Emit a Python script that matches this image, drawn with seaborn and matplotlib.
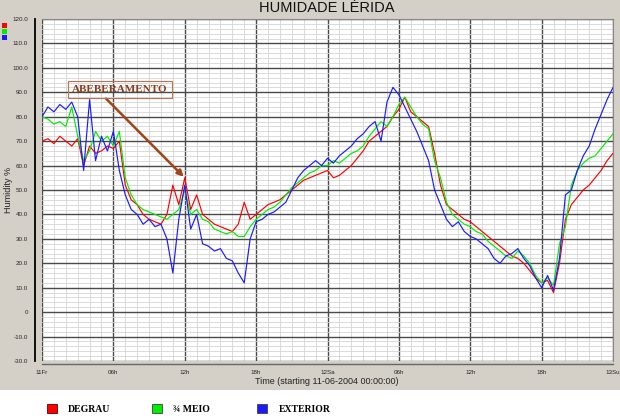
import numpy as np
import pandas as pd
import matplotlib
matplotlib.use("Agg")
import matplotlib.pyplot as plt
import seaborn as sns
from matplotlib.patches import Rectangle

# ---------------- data ----------------
hours = np.arange(0, 48.5, 0.5)

degrau = [70, 71, 69, 72, 70, 68, 71, 60, 68, 65,
          66, 68, 67, 70, 52, 46, 44, 40, 38, 37,
          36, 40, 52, 44, 55, 42, 48, 40, 38, 36,
          35, 34, 33, 36, 45, 38, 40, 42, 44, 45,
          46, 48, 50, 52, 54, 55, 56, 57, 58, 55,
          56, 58, 60, 63, 66, 70, 72, 74, 76, 80,
          83, 88, 82, 80, 78, 76, 65, 52, 44, 42,
          40, 38, 37, 35, 33, 31, 29, 27, 25, 23,
          22, 20, 17, 14, 12, 13, 8, 20, 38, 44,
          47, 50, 52, 55, 58, 62, 65]

meio = [80, 79, 77, 78, 76, 84, 72, 62, 66, 74,
        70, 72, 68, 74, 55, 48, 44, 42, 41, 40,
        39, 38, 40, 42, 50, 40, 42, 38, 37, 34,
        33, 32, 33, 31, 31, 35, 38, 40, 42, 43,
        45, 48, 51, 53, 55, 57, 58, 60, 60, 62,
        61, 63, 65, 66, 68, 72, 75, 78, 76, 80,
        85, 88, 84, 80, 77, 75, 62, 55, 45, 40,
        38, 36, 35, 33, 32, 29, 27, 25, 23, 22,
        25, 23, 20, 15, 12, 14, 11, 28, 35, 52,
        58, 61, 63, 64, 67, 70, 73]

exterior = [80, 84, 82, 85, 83, 86, 80, 58, 87, 62,
            72, 66, 74, 58, 48, 42, 40, 36, 38, 35,
            36, 30, 16, 38, 52, 34, 40, 28, 27, 25,
            26, 22, 21, 16, 12, 30, 37, 38, 40, 41,
            43, 45, 50, 55, 58, 60, 62, 60, 63, 61,
            64, 66, 68, 71, 73, 76, 78, 70, 86, 92,
            89, 84, 79, 74, 68, 62, 50, 44, 38, 35,
            37, 33, 31, 30, 28, 26, 22, 20, 23, 24,
            26, 22, 19, 14, 10, 15, 9, 22, 48, 50,
            58, 64, 68, 75, 81, 87, 92]

series_names = ["DEGRAU", "¾ MEIO", "EXTERIOR"]
series_colors = ["#ff0000", "#00ee00", "#1a1aff"]
x_tick_labels = ["11Fr", "06h", "12h", "18h", "12Sa", "06h", "12h", "18h", "13Su"]
y_tick_values = list(range(-20, 121, 10))
y_tick_labels = ["-30.0", "-10.0", "0"] + [f"{v}.0" for v in range(10, 121, 10)]

df = pd.concat([
    pd.DataFrame({"hour": hours, "value": vals, "series": name})
    for name, vals in zip(series_names, [degrau, meio, exterior])
])

# ---------------- figure ----------------
sns.set_style("white")
plt.rcParams["font.family"] = ["Liberation Sans", "DejaVu Sans"]

W, H = 620, 418
fig = plt.figure(figsize=(W / 100, H / 100), dpi=100)
fig.patch.set_facecolor("#d4d0c8")
fig.add_artist(Rectangle((0, 0), 1, (H - 390) / H, transform=fig.transFigure,
                         facecolor="white", edgecolor="none", zorder=0))

ax = fig.add_axes([42 / W, (H - 361) / H, 571 / W, 342 / H])
ax.set_facecolor("white")

sns.lineplot(data=df, x="hour", y="value", hue="series", hue_order=series_names,
             palette=dict(zip(series_names, series_colors)), estimator=None,
             legend=False, lw=0.85, ax=ax)

ax.set_xlim(0, 48)
ax.set_ylim(-20, 120)
ax.set_xticks(np.arange(0, 49, 6))
ax.set_xticklabels(x_tick_labels)
ax.set_xticks(np.arange(0, 49, 1), minor=True)
ax.set_yticks(y_tick_values)
ax.set_yticklabels(y_tick_labels)
ax.set_yticks(np.arange(-20, 121, 2), minor=True)

ax.grid(which="major", color="#4a4a4a", lw=1.0)
ax.grid(which="minor", color="#d4d4d4", lw=0.6)
ax.set_axisbelow(True)
ax.set_xlabel("")
ax.set_ylabel("")

ax.tick_params(axis="y", which="major", labelsize=4.5, length=3, width=0.8, pad=2)
ax.tick_params(axis="x", which="major", labelsize=4.5, length=3, width=0.8, pad=1)
ax.tick_params(axis="y", which="minor", length=0)
ax.tick_params(axis="x", which="minor", length=2, width=0.6)

ax.spines["left"].set_position(("outward", 5))
ax.spines["left"].set_color("black")
ax.spines["left"].set_linewidth(1.3)
ax.spines["bottom"].set_position(("outward", 2.5))
ax.spines["bottom"].set_color("#666666")
ax.spines["bottom"].set_linewidth(1.0)
for s in ["top", "right"]:
    ax.spines[s].set_color("#888888")
    ax.spines[s].set_linewidth(0.8)

# annotation
ax.annotate("ABEBERAMENTO", xy=(12, degrau[24]), xytext=(6.55, 91),
            ha="center", va="center", fontsize=8, fontweight="bold",
            family="Liberation Serif", color="#8b3a1a",
            bbox=dict(boxstyle="square,pad=0.35", fc="none", ec="#c07050", lw=0.8),
            arrowprops=dict(arrowstyle="-|>", color="#a0441a", lw=1.8,
                            relpos=(0.31, 0), shrinkA=0, shrinkB=1,
                            mutation_scale=9))

# texts
fig.text(327 / W, 1 - 8.5 / H, "HUMIDADE LÉRIDA", ha="center", va="center",
         fontsize=10.5, color="#111111")
fig.text(9 / W, 1 - 190 / H, "Humidity %", rotation=90, ha="center", va="center",
         fontsize=6.5, color="#222222")
fig.text(327 / W, 1 - 382 / H, "Time (starting 11-06-2004 00:00:00)",
         ha="center", va="center", fontsize=6.5, color="#222222")

# small colour squares top-left
for i, c in enumerate(series_colors):
    fig.add_artist(Rectangle((2 / W, 1 - (28 + 6 * i) / H), 5 / W, 5 / H,
                             transform=fig.transFigure, facecolor=c, edgecolor="none"))

# legend
legend_x = [47, 152, 257]
legend_text_x = [68, 173, 279]
for name, c, lx, tx in zip(series_names, series_colors, legend_x, legend_text_x):
    fig.add_artist(Rectangle((lx / W, 1 - 413 / H), 10 / W, 9 / H,
                             transform=fig.transFigure, facecolor=c,
                             edgecolor="#600000" if c == "#ff0000" else "#404040", lw=0.6))
    fig.text(tx / W, 1 - 409 / H, name, ha="left", va="center", fontsize=7,
             fontweight="bold", family="Liberation Serif", color="black")

fig.savefig("out.png", dpi=100, facecolor=fig.get_facecolor())
